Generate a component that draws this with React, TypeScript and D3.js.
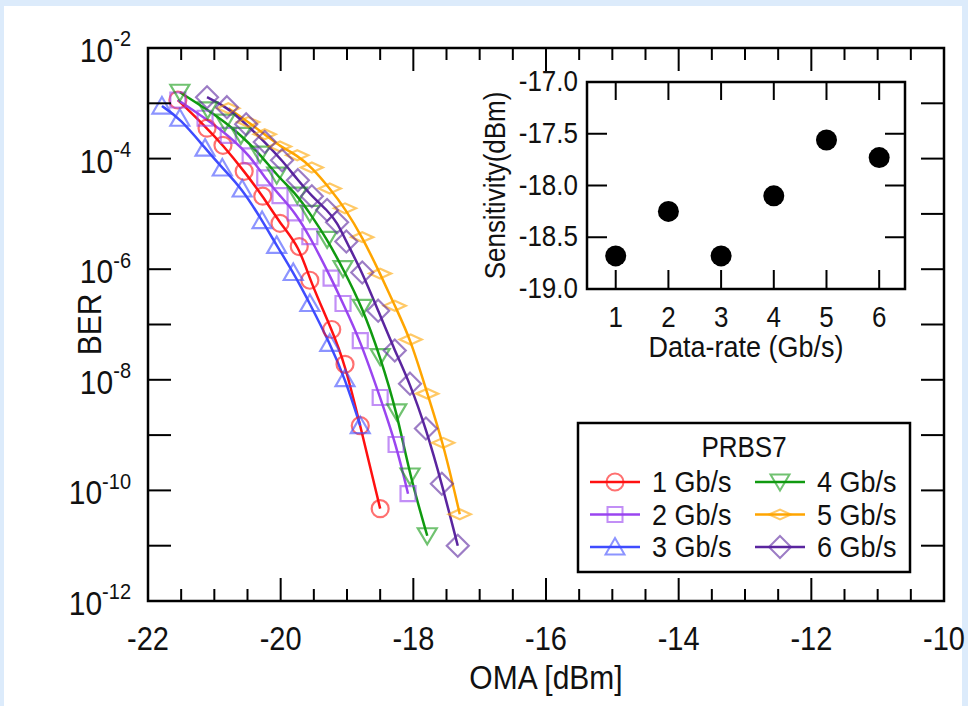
import React from "react";
import * as d3 from "d3";

// ---------- data ----------
const seriesNames = ["1 Gb/s", "2 Gb/s", "3 Gb/s", "4 Gb/s", "5 Gb/s", "6 Gb/s"];

// OMA [dBm] and log10(BER) per series
const oma1 = [-21.55, -21.11, -20.87, -20.55, -20.27, -20.01, -19.72, -19.56, -19.23, -19.03, -18.8, -18.5];
const logBer1 = [-2.94, -3.45, -3.76, -4.23, -4.68, -5.17, -5.59, -6.2, -7.09, -7.72, -8.83, -10.33];

const oma2 = [-21.55, -21.14, -20.79, -20.46, -20.24, -20.01, -19.78, -19.56, -19.24, -19.06, -18.8, -18.5, -18.26, -18.08];
const logBer2 = [-2.94, -3.27, -3.58, -3.95, -4.35, -4.67, -4.98, -5.41, -6.16, -6.62, -7.29, -8.32, -9.17, -10.06];

const oma3 = [-21.79, -21.52, -21.14, -20.88, -20.58, -20.28, -20.06, -19.81, -19.56, -19.26, -19.03, -18.8];
const logBer3 = [-3.05, -3.27, -3.81, -4.17, -4.55, -5.12, -5.57, -6.06, -6.62, -7.34, -7.98, -8.83];

const oma4 = [-21.52, -21.1, -20.84, -20.6, -20.31, -20.06, -19.75, -19.56, -19.3, -19.06, -18.77, -18.5, -18.25, -18.05, -17.79];
const logBer4 = [-2.8, -3.12, -3.34, -3.58, -3.92, -4.3, -4.66, -4.99, -5.46, -5.99, -6.69, -7.58, -8.58, -9.74, -10.82];

const oma5 = [-20.79, -20.49, -20.24, -20.01, -19.75, -19.53, -19.26, -19.03, -18.77, -18.5, -18.28, -18.04, -17.79, -17.55, -17.3];
const logBer5 = [-3.09, -3.34, -3.56, -3.78, -3.94, -4.16, -4.54, -4.9, -5.42, -6.08, -6.66, -7.27, -8.25, -9.14, -10.43];

const oma6 = [-21.11, -20.81, -20.52, -20.24, -19.98, -19.74, -19.53, -19.3, -19.15, -19.01, -18.77, -18.53, -18.28, -18.05, -17.81, -17.57, -17.33];
const logBer6 = [-2.89, -3.07, -3.38, -3.7, -4.03, -4.39, -4.68, -4.93, -5.15, -5.5, -6.06, -6.75, -7.47, -8.07, -8.88, -9.88, -11.0];

const omaMajorTicks = [-22, -20, -18, -16, -14, -12, -10];
const berLabelExps = [-12, -10, -8, -6, -4, -2];

const insetRates = [1, 2, 3, 4, 5, 6];
const insetSensitivity = [-18.68, -18.25, -18.68, -18.1, -17.56, -17.73];
const insetYTicks = [-19.0, -18.5, -18.0, -17.5, -17.0];

const legendTitle = "PRBS7";

// ---------- styles ----------
const FONT = "'Liberation Sans', Arial, Helvetica, sans-serif";
const TXT = "#111";
const SY = 1.12; // glyphs in the reference are a little taller than Arial
const colors = ["#ff1010", "#9a45f0", "#3f4cff", "#109a10", "#ffa500", "#5a259f"];
const markerTypes = ["circle", "square", "triangle", "triangleDown", "flatDiamond", "diamond"];

const omaData = [oma1, oma2, oma3, oma4, oma5, oma6];
const berData = [logBer1, logBer2, logBer3, logBer4, logBer5, logBer6];
const series = seriesNames.map((name, i) => ({
  name,
  color: colors[i],
  marker: markerTypes[i],
  points: omaData[i].map((x, j) => ({ x, y: Math.pow(10, berData[i][j]) })),
}));

function markerPath(type: string): string {
  switch (type) {
    case "circle":
      return "M8.5,0A8.5,8.5 0 1,1 -8.5,0A8.5,8.5 0 1,1 8.5,0Z";
    case "square":
      return "M-7.5,-7.5H7.5V7.5H-7.5Z";
    case "triangle":
      return "M0,-9L9.5,7.5L-9.5,7.5Z";
    case "triangleDown":
      return "M0,8.5L9.5,-7.5L-9.5,-7.5Z";
    case "flatDiamond":
      return "M-11,0L0,-5L11,0L0,5Z";
    case "diamond":
    default:
      return "M0,-11L11,0L0,11L-11,0Z";
  }
}

function T({
  x,
  y,
  size,
  anchor = "start",
  rotate = 0,
  children,
}: {
  x: number;
  y: number;
  size: number;
  anchor?: string;
  rotate?: number;
  children: React.ReactNode;
}) {
  return (
    <text
      transform={`translate(${x},${y}) rotate(${rotate}) scale(1,${SY})`}
      fontSize={size}
      textAnchor={anchor}
      fill={TXT}
    >
      {children}
    </text>
  );
}

export default function App() {
  const W = 968;
  const H = 706;
  // main plot
  const L = 148, R = 944, Tp = 48, B = 601;
  const x = d3.scaleLinear().domain([-22, -10]).range([L, R]);
  const y = d3.scaleLog().domain([1e-12, 1e-2]).range([B, Tp]);
  const line = d3
    .line<{ x: number; y: number }>()
    .x((d) => x(d.x))
    .y((d) => y(d.y))
    .curve(d3.curveBasis);

  const xTickVals = d3.range(-22, -10 + 0.001, 0.5);
  const decadeVals = d3.range(-12, -1).map((e) => Math.pow(10, e));

  // inset
  const iL = 587, iR = 905, iT = 82, iB = 289;
  const ix = d3.scaleLinear().domain([0.455, 6.49]).range([iL, iR]);
  const iy = d3.scaleLinear().domain([-19, -17]).range([iB, iT]);

  // legend
  const lgX = 578, lgY = 423, lgW = 332, lgH = 149;
  const colCenters = [615, 780];
  const rowY0 = 482, rowStep = 32.5;

  return (
    <svg
      width={W}
      height={H}
      style={{ position: "absolute", left: 0, top: 0, fontFamily: FONT }}
    >
      <rect x={0} y={0} width={W} height={H} fill="#dcebfb" />
      <rect x={4} y={6} width={958} height={H - 6} fill="#ffffff" />

      {/* curves */}
      {series.map((s) => (
        <path key={s.name + "l"} d={line(s.points) || ""} fill="none" stroke={s.color} strokeWidth={2.5} />
      ))}
      {series.map((s) =>
        s.points.map((p, j) => (
          <path
            key={s.name + "m" + j}
            d={markerPath(s.marker)}
            transform={`translate(${x(p.x)},${y(p.y)})`}
            fill="none"
            stroke={s.color}
            strokeOpacity={0.6}
            strokeWidth={2.2}
          />
        ))
      )}

      {/* frame */}
      <rect x={L} y={Tp} width={R - L} height={B - Tp} fill="none" stroke="#000" strokeWidth={2.5} />
      {xTickVals.map((v) => {
        const major = Math.abs(v % 2) < 1e-6;
        const len = major ? 23 : 12;
        return (
          <g key={"xt" + v}>
            <line x1={x(v)} x2={x(v)} y1={B} y2={B - len} stroke="#000" strokeWidth={2} />
            <line x1={x(v)} x2={x(v)} y1={Tp} y2={Tp + len} stroke="#000" strokeWidth={2} />
          </g>
        );
      })}
      {decadeVals.map((v, i) => (
        <g key={"yt" + i}>
          <line x1={L} x2={L + 23} y1={y(v)} y2={y(v)} stroke="#000" strokeWidth={2} />
          <line x1={R} x2={R - 23} y1={y(v)} y2={y(v)} stroke="#000" strokeWidth={2} />
        </g>
      ))}
      {omaMajorTicks.map((v) => (
        <T key={"xl" + v} x={x(v)} y={650} size={29} anchor="middle">
          {String(v)}
        </T>
      ))}
      {berLabelExps.map((e) => (
        <T key={"yl" + e} x={131} y={y(Math.pow(10, e)) + 14} size={30} anchor="end">
          10
          <tspan fontSize={20} dy={-14}>
            {String(e)}
          </tspan>
        </T>
      ))}
      <T x={(L + R) / 2} y={689} size={30} anchor="middle">
        OMA [dBm]
      </T>
      <T x={101} y={(Tp + B) / 2} size={30} anchor="middle" rotate={-90}>
        BER
      </T>

      {/* inset */}
      <rect x={iL} y={iT} width={iR - iL} height={iB - iT} fill="#fff" stroke="#000" strokeWidth={2.5} />
      {insetRates.map((r) => (
        <g key={"ixt" + r}>
          <line x1={ix(r)} x2={ix(r)} y1={iB} y2={iB - 19} stroke="#000" strokeWidth={2} />
          <line x1={ix(r)} x2={ix(r)} y1={iT} y2={iT + 18} stroke="#000" strokeWidth={2} />
          <T x={ix(r)} y={327} size={26} anchor="middle">
            {String(r)}
          </T>
        </g>
      ))}
      {insetYTicks.map((v) => (
        <g key={"iyt" + v}>
          <line x1={iL} x2={iL + 20} y1={iy(v)} y2={iy(v)} stroke="#000" strokeWidth={2} />
          <line x1={iR} x2={iR - 20} y1={iy(v)} y2={iy(v)} stroke="#000" strokeWidth={2} />
          <T x={578} y={iy(v) + 9} size={26} anchor="end">
            {v.toFixed(1)}
          </T>
        </g>
      ))}
      {insetRates.map((r, i) => (
        <circle key={"dot" + r} cx={ix(r)} cy={iy(insetSensitivity[i])} r={10.5} fill="#000" />
      ))}
      <T x={(iL + iR) / 2} y={357} size={27} anchor="middle">
        Data-rate (Gb/s)
      </T>
      <T x={505} y={(iT + iB) / 2} size={26} anchor="middle" rotate={-90}>
        Sensitivity(dBm)
      </T>

      {/* legend */}
      <rect x={lgX} y={lgY} width={lgW} height={lgH} fill="#fff" stroke="#000" strokeWidth={2.5} />
      <T x={lgX + lgW / 2} y={457} size={26} anchor="middle">
        {legendTitle}
      </T>
      {series.map((s, i) => {
        const cx = colCenters[Math.floor(i / 3)];
        const cy = rowY0 + (i % 3) * rowStep;
        return (
          <g key={"lg" + i}>
            <line x1={cx - 25} x2={cx + 25} y1={cy} y2={cy} stroke={s.color} strokeWidth={2.4} />
            <path
              d={markerPath(s.marker)}
              transform={`translate(${cx},${cy})`}
              fill="none"
              stroke={s.color}
              strokeOpacity={0.6}
              strokeWidth={2}
            />
            <T x={cx + 37} y={cy + 10} size={27}>
              {s.name}
            </T>
          </g>
        );
      })}
    </svg>
  );
}
